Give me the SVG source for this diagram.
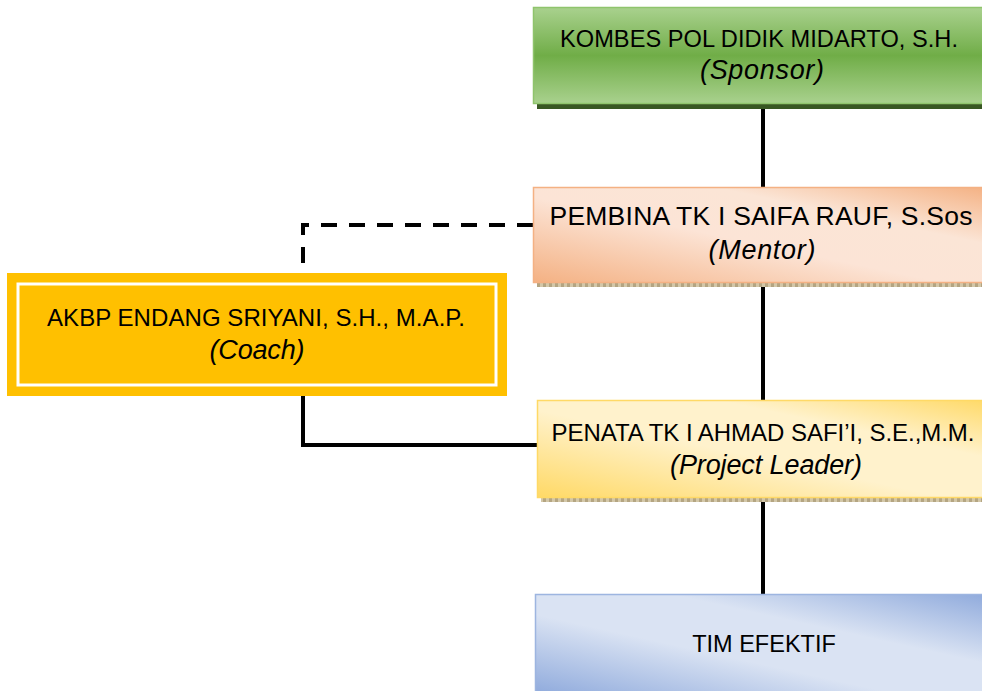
<svg xmlns="http://www.w3.org/2000/svg" width="982" height="691" viewBox="0 0 982 691">
<defs>
<style>
text{font-family:"Liberation Sans",Arial,sans-serif;font-size:24px;fill:#000;text-anchor:middle}
.i{font-style:italic;font-size:27px}
.conn{stroke:#000;stroke-width:4;fill:none}
</style>
<linearGradient id="gGreen" x1="0" y1="0" x2="0" y2="1">
<stop offset="0" stop-color="#a9d18e"/><stop offset="0.5" stop-color="#70ad47"/><stop offset="1" stop-color="#a9d18e"/>
</linearGradient>
<linearGradient id="gPeach" x1="0" y1="1" x2="1" y2="0">
<stop offset="0" stop-color="#f4b183"/><stop offset="0.45" stop-color="#fce4d6"/><stop offset="0.7" stop-color="#fbe5d6"/><stop offset="1" stop-color="#f4b183"/>
</linearGradient>
<linearGradient id="gYellow" x1="0" y1="1" x2="1" y2="0">
<stop offset="0" stop-color="#ffd966"/><stop offset="0.45" stop-color="#fff2cc"/><stop offset="0.7" stop-color="#fff2cc"/><stop offset="1" stop-color="#ffd966"/>
</linearGradient>
<linearGradient id="gBlue" x1="0" y1="1" x2="1" y2="0">
<stop offset="0" stop-color="#8faadc"/><stop offset="0.4" stop-color="#dae3f3"/><stop offset="0.65" stop-color="#dae3f3"/><stop offset="1" stop-color="#8faadc"/>
</linearGradient>
<pattern id="pStripe" width="6" height="5" patternUnits="userSpaceOnUse">
<rect width="6" height="5" fill="#b4a582"/><rect x="0" y="0" width="3" height="5" fill="#d3c7a8"/>
</pattern>
</defs>
<g id="connectors">
<line class="conn" x1="763" y1="105" x2="763" y2="187"/>
<line class="conn" x1="763" y1="284" x2="763" y2="400"/>
<line class="conn" x1="763" y1="498" x2="763" y2="594"/>
<polyline class="conn" points="533,225 303,225 303,273" stroke-dasharray="16 12"/>
<polyline class="conn" points="303,396 303,445 537,445"/>
</g>
<g id="sponsor">
<rect x="537" y="103" width="450" height="6" fill="#385723"/>
<rect x="533.5" y="7.5" width="455" height="96" fill="url(#gGreen)" stroke="#8fc46c" stroke-width="1.5"/>
<text x="759" y="47" style="font-size:23.6px" textLength="398">KOMBES POL DIDIK MIDARTO, S.H.</text>
<text class="i" x="762" y="79" textLength="124">(Sponsor)</text>
</g>
<g id="mentor">
<rect x="537" y="282" width="450" height="5" fill="url(#pStripe)"/>
<rect x="533.5" y="187.5" width="455" height="95" fill="url(#gPeach)" stroke="#f4b183" stroke-width="1.5"/>
<text x="761" y="225" style="font-size:26.5px" textLength="423">PEMBINA TK I SAIFA RAUF, S.Sos</text>
<text class="i" x="762" y="259" textLength="107">(Mentor)</text>
</g>
<g id="coach">
<rect x="7" y="273" width="500" height="123" fill="#ffc000"/>
<rect x="18" y="284" width="478" height="101" fill="none" stroke="#fff" stroke-width="3"/>
<text x="256" y="326" textLength="418">AKBP ENDANG SRIYANI, S.H., M.A.P.</text>
<text class="i" x="257" y="359" textLength="95">(Coach)</text>
</g>
<g id="leader">
<rect x="541" y="497" width="450" height="5" fill="url(#pStripe)"/>
<rect x="537.5" y="400.5" width="455" height="97" fill="url(#gYellow)" stroke="#ffd966" stroke-width="1.5"/>
<text x="763" y="441" textLength="423">PENATA TK I AHMAD SAFI’I, S.E.,M.M.</text>
<text class="i" x="766" y="474" textLength="192">(Project Leader)</text>
</g>
<g id="tim">
<rect x="535.5" y="594.5" width="455" height="100" fill="url(#gBlue)" stroke="#9db5e0" stroke-width="1.5"/>
<text x="764" y="652" style="font-size:23.5px">TIM EFEKTIF</text>
</g>
</svg>
